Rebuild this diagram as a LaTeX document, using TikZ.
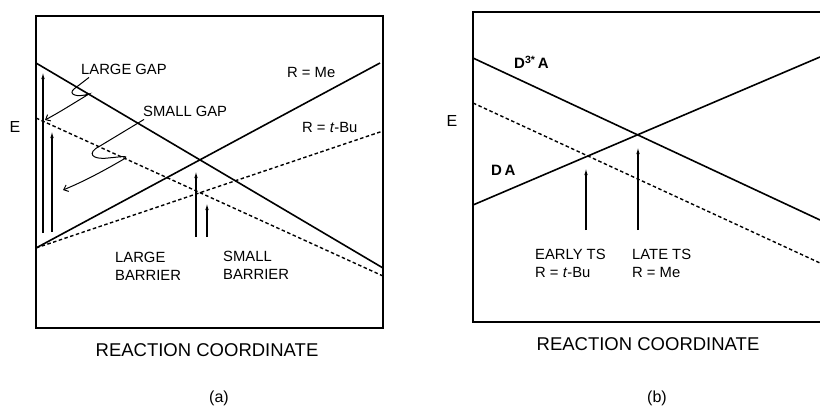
\documentclass[tikz,border=0pt]{standalone}
\usepackage{fontspec}
\setmainfont{Liberation Sans}
\usetikzlibrary{arrows.meta}
\begin{document}
\begin{tikzpicture}[x=1pt,y=-1pt,
  frame/.style={line width=1.7pt},
  solidline/.style={line width=1.6pt},
  dashline/.style={line width=1.4pt,dash pattern=on 3.5pt off 2.5pt},
  uparrow/.style={line width=1.2pt,-{Latex[length=7pt,width=3.4pt]}},
  leader/.style={line width=1pt,-{Straight Barb[length=4pt,width=7pt]}},
  lbl/.style={inner sep=0pt,font=\fontsize{14.8}{18}\selectfont},
  lblw/.style={lbl,anchor=west,align=left},
  axis/.style={inner sep=0pt,font=\fontsize{18.5}{20}\selectfont},
  elbl/.style={inner sep=0pt,font=\fontsize{16}{18}\selectfont},
  bl/.style={inner sep=0pt,font=\bfseries\fontsize{15}{18}\selectfont}]
\useasboundingbox (0,0) rectangle (820,407);

% ---------------- panel (a) ----------------
\draw[frame] (36,16) rectangle (383,328);
\coordinate (a1) at (36,63);   \coordinate (a2) at (383,268);
\coordinate (a3) at (36,248);  \coordinate (a4) at (380,63);
\coordinate (a5) at (36,118);  \coordinate (a6) at (383,276);
\coordinate (a7) at (36,248);  \coordinate (a8) at (383,131);
\draw[solidline] (a1) -- (a2);
\draw[solidline] (a3) -- (a4);
\draw[dashline] (a5) -- (a6);
\draw[dashline] (a7) -- (a8);

\coordinate (g1s) at (43,233);  \coordinate (g1e) at (43,72);
\coordinate (g2s) at (52,232);  \coordinate (g2e) at (52,131);
\coordinate (b1s) at (196,237); \coordinate (b1e) at (196,171);
\coordinate (b2s) at (207,237); \coordinate (b2e) at (207,203);
\draw[uparrow] (g1s) -- (g1e);
\draw[uparrow] (g2s) -- (g2e);
\draw[uparrow] (b1s) -- (b1e);
\draw[uparrow] (b2s) -- (b2e);

\node[lblw] (lgap) at (81,69) {LARGE GAP};
\node[lblw] (sgap) at (143,111) {SMALL GAP};
\node[lblw] (rme) at (287,72) {R = Me};
\node[lblw] (rtbu) at (302,127) {R = \textit{t}-Bu};
\node[elbl] (ea) at (15,127) {E};
\node[lblw] (lbar) at (115,266) {LARGE\\BARRIER};
\node[lblw] (sbar) at (223,265) {SMALL\\BARRIER};
\node[axis] (rca) at (207,350) {REACTION COORDINATE};
\node[elbl] (pa) at (219,398) {(a)};

\coordinate (lgt) at (45,120);
\coordinate (sgt) at (63,190);
\draw[leader] (lgap.south west) ++(8,3) -- (74,89)
  .. controls (68,94) and (76,98) .. (89,94)
  .. controls (74,103) and (60,112) .. (lgt);
\draw[leader] (sgap.south west) ++(1,3) -- (100,146)
  .. controls (86,153) and (92,160) .. (108,158)
  .. controls (120,157) and (130,155) .. (124,159)
  .. controls (105,170) and (85,181) .. (sgt);

% ---------------- panel (b) ----------------
\draw[frame] (822,12) -- (473,12) -- (473,322) -- (822,322);
\coordinate (c1) at (473,58);  \coordinate (c2) at (820,220);
\coordinate (c3) at (473,205); \coordinate (c4) at (820,57);
\coordinate (c5) at (473,103); \coordinate (c6) at (820,263);
\draw[solidline] (c1) -- (c2);
\draw[solidline] (c3) -- (c4);
\draw[dashline] (c5) -- (c6);

\coordinate (e1s) at (586,230); \coordinate (e1e) at (586,168);
\coordinate (e2s) at (638,230); \coordinate (e2e) at (638,147);
\draw[uparrow] (e1s) -- (e1e);
\draw[uparrow] (e2s) -- (e2e);

\node[elbl] (eb) at (452,121) {E};
\node[bl,anchor=west] (d3a) at (514,62) {D\textsuperscript{3*}\,A};
\node[bl,anchor=west] (da) at (491,170) {D\,A};
\node[lblw] (early) at (535,263) {EARLY TS\\R = \textit{t}-Bu};
\node[lblw] (late) at (632,263) {LATE TS\\R = Me};
\node[axis] (rcb) at (648,344) {REACTION COORDINATE};
\node[elbl] (pb) at (657,398) {(b)};
\end{tikzpicture}
\end{document}
